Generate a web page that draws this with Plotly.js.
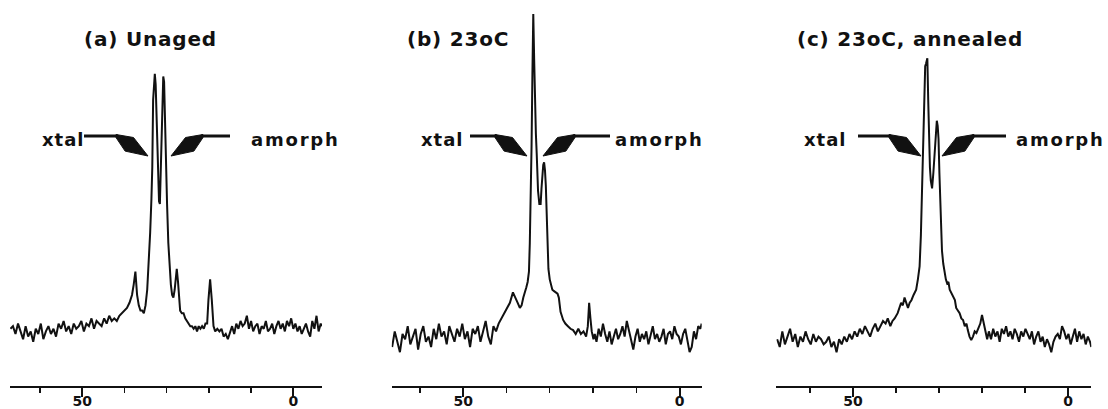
<!DOCTYPE html>
<html><head><meta charset="utf-8">
<script src="https://cdn.plot.ly/plotly-3.0.1.min.js"></script>
<style>html,body{margin:0;padding:0;background:#fff}</style>
</head><body><div id="chart" style="width:1108px;height:409px"></div>
<script>
// ---- Data: [chemical shift (ppm), relative intensity] ----
const specA = [[67.0,2],[66.4,3],[65.8,0],[65.2,4],[64.6,1],[64.0,-2],[63.4,3],[62.8,-1],[62.2,1],[61.6,-3],[61.0,2],[60.4,0],[59.8,4],[59.2,-2],[58.6,1],[58.0,3],[57.4,0],[56.8,2],[56.2,-1],[55.6,4],[55.0,2],[54.4,5],[53.8,1],[53.2,3],[52.6,0],[52.0,4],[51.4,2],[50.8,3],[50.2,5],[49.6,1],[49.0,4],[48.4,3],[47.8,6],[47.2,2],[46.6,5],[46.0,4],[45.4,3],[44.8,6],[44.2,4],[43.6,7],[43.0,5],[42.4,6],[41.8,5],
[41.2,7],[40.6,8],[40.0,9],[39.4,10],[38.8,12],[38.2,15],[37.8,19],[37.4,24],[37.0,15],[36.6,11],[36.2,9],[35.8,9],[35.4,8],[35.0,11],[34.6,17],[34.2,28],[33.9,39],[33.6,52],[33.4,64],[33.2,90],[33.0,97],[32.8,100],[32.6,96],[32.4,84],[32.2,72],[32.0,60],[31.8,51],[31.6,50],[31.4,62],[31.2,77],[31.0,90],[30.8,99],[30.6,97],[30.4,80],[30.2,62],[29.9,50],[29.6,35],[29.3,26],[29.0,19],[28.7,15],[28.4,14],[28.1,17],[27.8,22],[27.6,25],[27.3,20],[27.0,13],[26.8,9],[26.4,8],[26.0,8],[25.6,6],[25.2,5],[24.8,4],[24.4,3],[24.0,3],[23.6,2],[23.2,3],[22.8,1],[22.4,3],[22.0,2],[21.6,3],[21.2,2],[20.8,4],[20.4,4],[20.1,13],[19.7,21],[19.3,13],[18.9,3],[18.5,1],[18.0,2],[17.5,1],[17.0,2],[16.5,-1],[16.0,0],[15.5,-2],
[15.0,1],[14.5,3],[14.0,0],[13.5,4],[13.0,2],[12.5,5],[12.0,3],[11.5,4],[11.0,7],[10.5,2],[10.0,5],[9.5,1],[9.0,3],[8.5,4],[8.0,0],[7.5,3],[7.0,2],[6.5,5],[6.0,1],[5.5,2],[5.0,4],[4.5,0],[4.0,3],[3.5,5],[3.0,2],[2.5,4],[2.0,1],[1.5,5],[1.0,3],[0.5,6],[0.0,2],[-0.5,4],[-1.0,1],[-1.5,3],[-2.0,0],[-2.5,2],[-3.0,4],[-3.5,1],[-4.0,-1],[-4.5,5],[-5.0,2],[-5.5,7],[-6.0,1],[-6.5,4],[-6.8,3]];

const specB = [[66.4,-5],[65.8,1],[65.2,-3],[64.6,-7],[64.0,0],[63.4,-2],[62.8,3],[62.2,-4],[61.6,-1],[61.0,2],[60.4,-6],[59.8,0],[59.2,3],[58.6,-3],[58.0,-1],[57.4,-5],[56.8,2],[56.2,-2],[55.6,4],[55.0,-1],[54.4,1],[53.8,-4],[53.2,3],[52.6,0],[52.0,-3],[51.4,2],[50.8,-1],[50.2,4],[49.6,-2],[49.0,1],[48.4,-5],[47.8,2],[47.2,0],[46.6,3],[46.0,-3],[45.4,1],[44.8,5],[44.2,-1],[43.6,-4],[43.0,3],[42.4,1],
[41.8,4],[41.1,6],[40.4,8.5],[39.8,10],[39.2,12],[38.5,16],[37.9,14],[37.4,12],[36.9,10],[36.5,11],[36.1,14],[35.7,16],[35.4,18],[35.1,20],[34.8,24],[34.6,35],[34.4,50],[34.2,72],[34.0,100],[33.8,123],[33.6,106],[33.4,88],[33.2,77],[33.0,69],[32.7,55],[32.4,50],[32.1,50],[31.9,56],[31.7,62],[31.5,65],[31.3,66],[31.1,63],[30.9,57],[30.7,46],[30.5,33],[30.3,25],[30.0,21],[29.7,19],[29.4,17],[29.0,16.5],[28.6,16],[28.2,15.5],[27.9,14],[27.5,8.5],[26.9,5.4],[26.4,4],[25.8,3],[25.2,2],[24.6,1.5],[24.0,0],[23.4,2],[22.8,0],[22.2,1],[21.6,-1],[21.2,3],[20.9,12],[20.6,6],[20.3,1],[19.9,-2],[19.6,0],
[19.2,-3],[18.7,2],[18.2,-1],[17.7,4],[17.2,0],[16.7,-3],[16.2,1],[15.7,-4],[15.2,-1],[14.7,2],[14.2,-2],[13.7,0],[13.2,3],[12.7,-1],[12.2,5],[11.7,1],[11.2,-2],[10.7,-6],[10.2,-1],[9.7,2],[9.2,-3],[8.7,0],[8.2,-2],[7.7,1],[7.2,-4],[6.7,-1],[6.2,3],[5.7,-2],[5.2,0],[4.7,-3],[4.2,-1],[3.7,2],[3.2,-4],[2.7,0],[2.2,1],[1.7,-2],[1.2,3],[0.7,0],[0.2,-1],[-0.3,-4],[-0.8,0],[-1.3,2],[-1.8,-3],[-2.3,-7],[-2.8,-5],[-3.3,1],[-3.8,-2],[-4.3,3],[-4.8,2],[-5.1,4]];

const specC = [[67.6,-2],[67.0,-5],[66.4,1],[65.8,-4],[65.2,-1],[64.6,2],[64.0,-3],[63.4,0],[62.8,-5],[62.2,-1],[61.6,-3],[61.0,1],[60.4,-2],[59.8,-4],[59.2,0],[58.6,-3],[58.0,-1],[57.4,-2],[56.8,-4],[56.2,-3],[55.6,-1],[55.0,-5],[54.4,-3],[53.8,-7],[53.2,-2],[52.6,-4],[52.0,-1],[51.4,-3],[50.8,0],[50.2,-2],[49.6,1],[49.0,-1],[48.4,2],[47.8,0],[47.2,3],[46.6,1],[46.0,-1],[45.4,2],[44.8,4],[44.2,1],[43.6,3],[43.0,5],
[42.4,4],[41.9,6],[41.3,3],[40.8,5],[40.3,6],[39.6,8],[38.8,12],[38.4,11],[38.0,14],[37.6,12],[37.2,10],[36.8,12],[36.4,13],[35.9,15],[35.3,17],[34.9,21],[34.5,26],[34.2,38],[34.0,51],[33.8,68],[33.6,84],[33.4,95],[33.2,103],[33.0,104],[32.7,106],[32.5,90],[32.3,75],[32.1,64],[31.9,59],[31.6,56],[31.3,62],[31.0,71],[30.7,78],[30.5,82],[30.3,80],[30.1,75],[29.9,62],[29.7,51],[29.5,42],[29.3,32],[29.0,27],[28.7,23],[28.4,21],[28.1,19.5],[27.8,20],[27.5,17],[27.1,15.6],[26.7,14],[26.3,13],[26.0,10],[25.6,9],[25.2,8],[24.8,6],[24.4,5.4],[24.0,3],[23.6,4],[23.3,1.5],[22.9,-1],[22.5,-2.3],[22.1,-1],[21.7,1],[21.3,0.4],[20.9,2],[20.4,4],[20.0,7.3],[19.6,4],[19.2,0],[18.8,-2],
[18.4,1],[17.9,-2],[17.4,2],[16.9,-1],[16.4,1],[15.9,-3],[15.4,2],[14.9,0],[14.4,3],[13.9,-1],[13.4,1],[12.9,-2],[12.4,2],[11.9,0],[11.4,-3],[10.9,1],[10.4,-1],[9.9,2],[9.4,0],[8.9,-2],[8.4,1],[7.9,-4],[7.4,-1],[6.9,1],[6.4,-3],[5.9,-1],[5.4,-5],[4.9,-2],[4.4,-4],[3.9,-7],[3.4,-3],[2.9,-1],[2.4,0],[1.9,-2],[1.4,3],[0.9,1],[0.4,-2],[-0.1,0],[-0.6,-4],[-1.1,-1],[-1.6,2],[-2.1,-3],[-2.6,1],[-3.1,-2],[-3.6,0],[-4.1,-4],[-4.6,-1],[-5.1,-3],[-5.4,-5]];

const panelTitles = ['(a) Unaged', '(b) 23oC', '(c) 23oC, annealed'];
const peakLabels = ['xtal', 'amorph'];
const majorTicks = [50, 0];
const tickLabels = ['50', '0'];

// ---- Layout geometry (pixels) ----
const W = 1108, H = 409, MT = 5, MB = 23, PH = H - MT - MB;
const fx = p => p / W;                 // pixel x -> paper x
const fy = p => (H - MB - p) / PH;     // pixel y -> paper y

const panels = [
  {spec: specA, dom: [10, 322],      range: [67.1, -6.8], titleX: 150, xt: {tip: [148, 156], start: 84,  text: 63},  am: {tip: [171, 156], end: 230,  text: 295}},
  {spec: specB, dom: [391.7, 701.7], range: [66.5, -5.1], titleX: 458, xt: {tip: [527, 156], start: 470, text: 442}, am: {tip: [543, 156], end: 610,  text: 659}},
  {spec: specC, dom: [776.3, 1091.3],range: [67.8, -5.4], titleX: 910, xt: {tip: [921, 156], start: 858, text: 825}, am: {tip: [942, 156], end: 1006, text: 1060}}
];

const INK = '#111';
const traces = [], shapes = [], annotations = [];
const layout = {
  width: W, height: H, margin: {l: 0, r: 0, t: MT, b: MB},
  paper_bgcolor: '#fff', plot_bgcolor: '#fff', showlegend: false,
  font: {family: 'DejaVu Sans', color: INK}
};

function arrow(tip, lineFrom, dir) {
  const K = [tip[0] - dir * 32, tip[1] - 20];
  shapes.push({type: 'line', xref: 'paper', yref: 'paper',
    x0: fx(lineFrom), y0: fy(K[1]), x1: fx(K[0] + dir * 2), y1: fy(K[1]),
    line: {color: INK, width: 3}});
  const pts = [
    [K[0], K[1] - 1.5],
    [tip[0] - dir * 14.5, tip[1] - 18.5],
    [tip[0], tip[1]],
    [tip[0] - dir * 22.9, tip[1] - 4.9],
    [K[0], K[1] + 1.5]
  ];
  const path = 'M ' + pts.map(p => fx(p[0]).toFixed(5) + ',' + fy(p[1]).toFixed(5)).join(' L ') + ' Z';
  shapes.push({type: 'path', xref: 'paper', yref: 'paper', path: path,
    fillcolor: INK, line: {color: INK, width: 1}});
}

panels.forEach((p, i) => {
  const n = i === 0 ? '' : String(i + 1);
  traces.push({
    x: p.spec.map(d => d[0]), y: p.spec.map(d => d[1]),
    xaxis: 'x' + n, yaxis: 'y' + n, type: 'scatter', mode: 'lines',
    line: {color: INK, width: 2}, hoverinfo: 'skip'
  });
  layout['xaxis' + n] = {
    domain: [fx(p.dom[0]), fx(p.dom[1])], range: p.range, anchor: 'y' + n,
    showline: true, linecolor: INK, linewidth: 2.2, showgrid: false, zeroline: false,
    ticks: 'outside', ticklen: 9, tickwidth: 1.8, tickcolor: INK,
    ticklabelstandoff: -8,
    tickmode: 'array', tickvals: majorTicks, ticktext: tickLabels,
    tickfont: {family: 'DejaVu Sans', size: 14, color: INK, weight: 'bold'},
    minor: {ticks: 'outside', ticklen: 5, tickwidth: 1.5, tickcolor: INK,
            tickmode: 'linear', tick0: 0, dtick: 10, showgrid: false},
    fixedrange: true
  };
  layout['yaxis' + n] = {domain: [0, 1], range: [-20, 126.5], visible: false,
    anchor: 'x' + n, fixedrange: true};

  annotations.push({xref: 'paper', yref: 'paper', x: fx(p.titleX), y: fy(39),
    xanchor: 'center', yanchor: 'middle', showarrow: false,
    text: '<span style="letter-spacing:0.8px">' + panelTitles[i] + '</span>',
    font: {family: 'DejaVu Sans', size: 20, color: INK, weight: 'bold'}});
  annotations.push({xref: 'paper', yref: 'paper', x: fx(p.xt.text), y: fy(139),
    xanchor: 'center', yanchor: 'middle', showarrow: false,
    text: '<span style="letter-spacing:1px">' + peakLabels[0] + '</span>',
    font: {family: 'DejaVu Sans', size: 18, color: INK, weight: 'bold'}});
  annotations.push({xref: 'paper', yref: 'paper', x: fx(p.am.text), y: fy(139),
    xanchor: 'center', yanchor: 'middle', showarrow: false,
    text: '<span style="letter-spacing:1.8px">' + peakLabels[1] + '</span>',
    font: {family: 'DejaVu Sans', size: 18, color: INK, weight: 'bold'}});
  arrow(p.xt.tip, p.xt.start, 1);
  arrow(p.am.tip, p.am.end, -1);
});

layout.shapes = shapes;
layout.annotations = annotations;
Plotly.newPlot('chart', traces, layout, {displayModeBar: false, staticPlot: true});
</script>
</body></html>
